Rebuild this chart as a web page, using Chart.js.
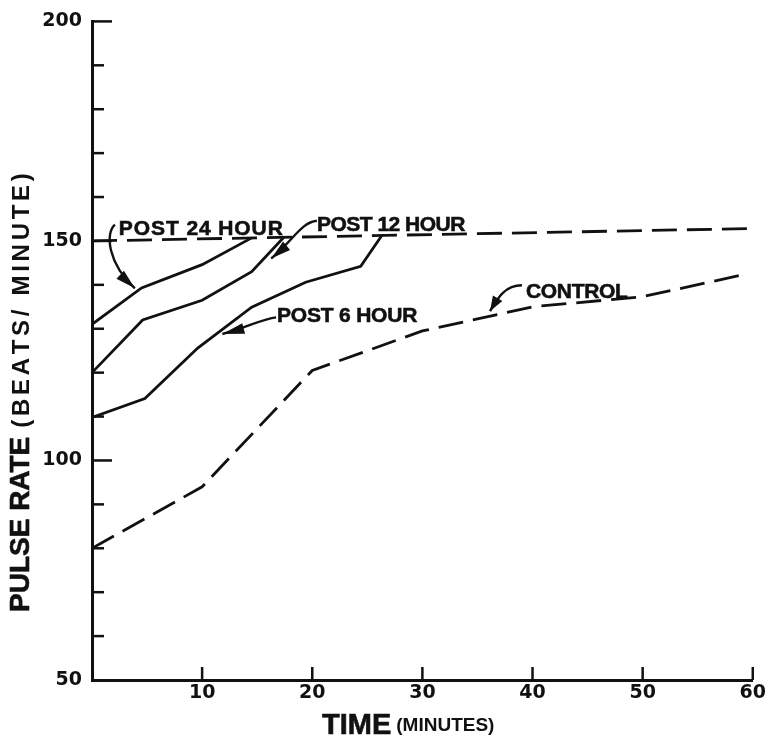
<!DOCTYPE html>
<html>
<head>
<meta charset="utf-8">
<script src="https://cdn.jsdelivr.net/npm/chart.js@4.4.1/dist/chart.umd.min.js"></script>
<style>
  html, body { margin: 0; padding: 0; background: #fff; }
  #wrap { width: 768px; height: 738px; }
</style>
</head>
<body>
<div id="wrap"><canvas id="c" width="768" height="738"></canvas></div>
<script>
// Tick values
const timeTicks = [0, 10, 20, 30, 40, 50, 60];
const rateLabels = [50, 100, 150, 200];

// Pulse rate (beats/minute) against time (minutes)
const post24Time = [0, 4.5, 10, 14.5];
const post24Rate = [131, 139.3, 144.6, 150.7];

const post12Time = [0, 4.6, 10, 14.5, 17.4];
const post12Rate = [120, 132, 136.5, 143, 150.8];

const post6Time = [0, 4.8, 9.6, 14.5, 19.4, 24.4, 26.3];
const post6Rate = [109.8, 114.1, 125.6, 134.9, 140.6, 144.2, 151.2];

const controlTime = [0, 10, 20, 30, 40, 50, 59.5];
const controlRate = [80, 94, 120.5, 129.5, 135, 137.3, 142.5];

const plateauTime = [0, 59.5];
const plateauRate = [150, 152.8];

const ink = '#111';
const FONT = '"Liberation Sans", Arial, sans-serif';
const TICK_FONT = '"DejaVu Sans", sans-serif';

const pairs = (xs, ys) => xs.map((x, i) => ({ x, y: ys[i] }));

// Curve labels and their pointer arrows, anchored in data units
const curveNotes = [
  { text: 'POST 24 HOUR', at: [2.44, 151.4], gap: 0.9,
    arrow: [[2.08, 153.7], [1.17, 151.7], [1.45, 144.9], [3.89, 139.2]], head: 20 },
  { text: 'POST 12 HOUR', at: [20.42, 152.3], gap: -0.5,
    arrow: [[20.42, 154.6], [18.98, 154.2], [18.34, 150.3], [16.27, 146.0]], head: 20 },
  { text: 'POST 6 HOUR', at: [16.8, 131.5], gap: -0.2,
    arrow: [[16.72, 132.6], [15.36, 132.2], [14.28, 130.4], [11.84, 128.8]], head: 22 },
  { text: 'CONTROL', at: [39.4, 136.9], gap: -0.3,
    arrow: [[39.04, 139.9], [37.5, 139.9], [36.87, 137.1], [36.14, 134.0]], head: 15 }
];

function spaced(ctx, text, x0, y0, gap, outline) {
  let cx = x0;
  for (const ch of text) {
    ctx.fillText(ch, cx, y0);
    if (outline) ctx.strokeText(ch, cx, y0);
    cx += ctx.measureText(ch).width + gap;
  }
  return cx;
}

const inwardTicks = {
  id: 'inwardTicks',
  afterDraw(chart) {
    const { ctx, chartArea: { left, bottom }, scales: { x, y } } = chart;
    ctx.save();
    ctx.strokeStyle = ink;
    ctx.lineWidth = 2.5;
    y.ticks.forEach(t => {
      if (t.value === y.min) return;
      const py = y.getPixelForValue(t.value);
      const len = t.value % 50 === 0 ? 20 : 12;
      ctx.beginPath();
      ctx.moveTo(left, py);
      ctx.lineTo(left + len, py);
      ctx.stroke();
    });
    x.ticks.forEach(t => {
      if (t.value === x.min) return;
      const px = x.getPixelForValue(t.value);
      ctx.beginPath();
      ctx.moveTo(px, bottom);
      ctx.lineTo(px, bottom - 13);
      ctx.stroke();
    });
    ctx.restore();
  }
};

const notesPlugin = {
  id: 'curveNotes',
  afterDraw(chart) {
    const { ctx, scales: { x, y } } = chart;
    const P = ([a, b]) => [x.getPixelForValue(a), y.getPixelForValue(b)];
    ctx.save();
    ctx.fillStyle = ink;
    ctx.strokeStyle = ink;
    ctx.font = 'bold 21px ' + FONT;
    ctx.textBaseline = 'alphabetic';
    ctx.textAlign = 'left';
    curveNotes.forEach(n => {
      const [tx, ty] = P(n.at);
      ctx.lineWidth = 0.6;
      spaced(ctx, n.text, tx, ty, n.gap, true);
      const [p0, p1, p2, p3] = n.arrow.map(P);
      ctx.lineWidth = 2.4;
      ctx.beginPath();
      ctx.moveTo(p0[0], p0[1]);
      ctx.bezierCurveTo(p1[0], p1[1], p2[0], p2[1], p3[0], p3[1]);
      ctx.stroke();
      const ang = Math.atan2(p3[1] - p2[1], p3[0] - p2[0]);
      const L = n.head, W = 5.5;
      const bx = p3[0] - L * Math.cos(ang), by = p3[1] - L * Math.sin(ang);
      ctx.beginPath();
      ctx.moveTo(p3[0], p3[1]);
      ctx.lineTo(bx + W * Math.sin(ang), by - W * Math.cos(ang));
      ctx.lineTo(bx - W * Math.sin(ang), by + W * Math.cos(ang));
      ctx.closePath();
      ctx.fill();
    });
    ctx.restore();
  }
};

const axisTitles = {
  id: 'axisTitles',
  afterDraw(chart) {
    const { ctx } = chart;
    ctx.save();
    ctx.fillStyle = ink;
    ctx.strokeStyle = ink;
    ctx.lineWidth = 0.6;
    ctx.textBaseline = 'alphabetic';
    ctx.textAlign = 'left';
    // horizontal axis title
    ctx.font = 'bold 29px ' + FONT;
    ctx.fillText('TIME', 322, 734);
    ctx.strokeText('TIME', 322, 734);
    const w = ctx.measureText('TIME').width;
    ctx.font = 'bold 19px ' + FONT;
    ctx.fillText('(MINUTES)', 322 + w + 5, 731);
    // vertical axis title
    ctx.translate(29, 612);
    ctx.rotate(-Math.PI / 2);
    ctx.font = 'bold 28px ' + FONT;
    ctx.fillText('PULSE RATE', 0, 0);
    ctx.strokeText('PULSE RATE', 0, 0);
    const w2 = ctx.measureText('PULSE RATE').width;
    ctx.font = 'bold 24px ' + FONT;
    spaced(ctx, '(BEATS/ MINUTE)', w2 + 9, 0, 3.7, false);
    ctx.restore();
  }
};

const lineStyle = { borderColor: ink, borderWidth: 2.8, pointRadius: 0, tension: 0, fill: false };
const dashed = { borderDash: [25, 10] };

new Chart(document.getElementById('c'), {
  type: 'line',
  data: {
    datasets: [
      { label: 'Post 24 hour', data: pairs(post24Time, post24Rate), ...lineStyle },
      { label: 'Post 12 hour', data: pairs(post12Time, post12Rate), ...lineStyle },
      { label: 'Post 6 hour', data: pairs(post6Time, post6Rate), ...lineStyle },
      { label: 'Control', data: pairs(controlTime, controlRate), ...lineStyle, ...dashed },
      { label: 'Plateau', data: pairs(plateauTime, plateauRate), ...lineStyle, ...dashed }
    ]
  },
  options: {
    responsive: false,
    animation: false,
    events: [],
    layout: { padding: { top: 19, right: 12, left: 0, bottom: 0 } },
    plugins: { legend: { display: false }, tooltip: { enabled: false } },
    scales: {
      x: {
        type: 'linear', min: 0, max: 60,
        afterBuildTicks: s => { s.ticks = timeTicks.map(v => ({ value: v })); },
        afterFit: s => { s.height = 58; },
        ticks: {
          callback: v => (v === 0 ? '' : String(v)),
          font: { family: TICK_FONT, weight: 'bold', size: 19 },
          color: ink, padding: 2, maxRotation: 0, autoSkip: false
        },
        grid: { display: false, drawTicks: false },
        border: { display: true, color: ink, width: 3 }
      },
      y: {
        type: 'linear', min: 50, max: 200,
        ticks: {
          stepSize: 10,
          callback: v => (rateLabels.includes(v) ? String(v) : ''),
          font: { family: TICK_FONT, weight: 'bold', size: 19 },
          color: ink, padding: 10, autoSkip: false
        },
        afterFit: s => { s.width = 92; },
        grid: { display: false, drawTicks: false },
        border: { display: true, color: ink, width: 3 }
      }
    }
  },
  plugins: [inwardTicks, notesPlugin, axisTitles]
});
</script>
</body>
</html>
